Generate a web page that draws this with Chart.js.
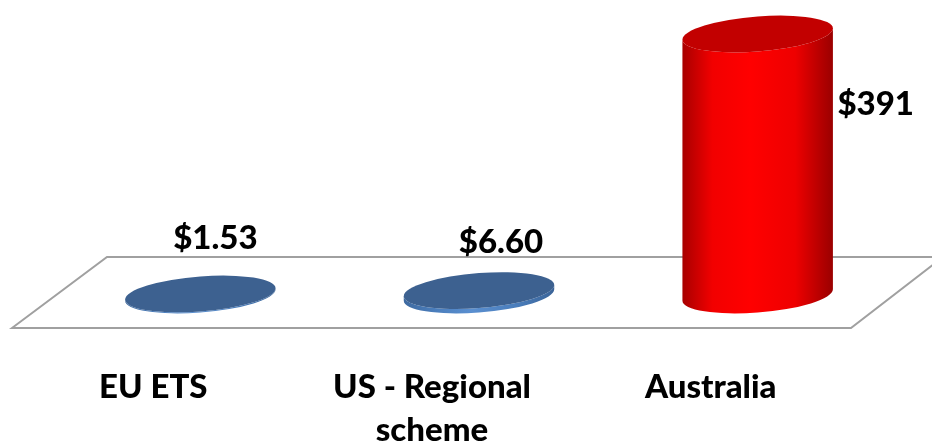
<!DOCTYPE html>
<html>
<head>
<meta charset="utf-8">
<script src="https://cdn.jsdelivr.net/npm/chart.js@4"></script>
<style>
  html, body { margin: 0; padding: 0; background: #ffffff; }
  canvas { display: block; }
</style>
</head>
<body>
<canvas id="cost-chart" width="932" height="445"></canvas>
<script>
// cost per scheme, in dollars
const schemes = ["EU ETS", ["US - Regional", "scheme"], "Australia"];
const costs = [1.53, 6.6, 391];

const FONT = "Lato, 'Open Sans', sans-serif";
const WEIGHT = "900";

// per-bar look: side gradient stops and top face colour
const barStyles = [
    { side: ["#3f6aa0", "#4a7dbb", "#5a8fd0", "#4a7dbb", "#3b6498"], top: "#3d6190" },
    { side: ["#3f6aa0", "#4a7dbb", "#5a8fd0", "#4a7dbb", "#3b6498"], top: "#3d6190" },
    { side: ["#a80000", "#f20000", "#ff0000", "#ee0000", "#9a0000"], top: "#c20000" },
];
// where each value label sits relative to the bar top centre
const labelShift = [
    [15, -56],
    [22, -48],
    [118, 70],
];

function formatCost(v) {
    return "$" + (v < 100 ? v.toFixed(2) : v.toFixed(0));
}

// sheared ellipse cylinder, sides stay vertical
function drawCylinder(ctx, cx, yTop, yBase, rx, ry, tilt, style) {
    ctx.save();
    ctx.transform(1, -tilt, 0, 1, cx, 0);

    const grad = ctx.createLinearGradient(-rx, 0, rx, 0);
    const stops = [0, 0.2, 0.45, 0.75, 1];
    style.side.forEach((c, i) => grad.addColorStop(stops[i], c));

    ctx.beginPath();
    ctx.moveTo(-rx, yTop);
    ctx.lineTo(-rx, yBase);
    ctx.ellipse(0, yBase, rx, ry, 0, Math.PI, 0, true);
    ctx.lineTo(rx, yTop);
    ctx.ellipse(0, yTop, rx, ry, 0, 0, Math.PI, false);
    ctx.closePath();
    ctx.fillStyle = grad;
    ctx.fill();

    ctx.beginPath();
    ctx.ellipse(0, yTop, rx, ry, 0, 0, Math.PI * 2);
    ctx.fillStyle = style.top;
    ctx.fill();
    ctx.restore();
}

const floorPlugin = {
    id: "floor",
    beforeDatasetsDraw(chart) {
        const { ctx, chartArea: a } = chart;
        ctx.save();
        ctx.beginPath();
        ctx.moveTo(a.left - 49, a.bottom + 33);
        ctx.lineTo(a.left + 46, a.bottom - 38);
        ctx.lineTo(a.right + 46, a.bottom - 38);
        ctx.lineTo(a.right - 46, a.bottom + 33);
        ctx.closePath();
        ctx.fillStyle = "#ffffff";
        ctx.fill();
        ctx.strokeStyle = "#a0a0a0";
        ctx.lineWidth = 2;
        ctx.stroke();
        ctx.restore();
    },
};

const cylinderPlugin = {
    id: "cylinders",
    afterDatasetsDraw(chart) {
        const ctx = chart.ctx;
        const meta = chart.getDatasetMeta(0);
        meta.data.forEach((bar, i) => {
            const rx = bar.width / 2;
            drawCylinder(ctx, bar.x, bar.y, bar.base, rx, 17.5, 0.075, barStyles[i]);
        });

        ctx.save();
        ctx.font = WEIGHT + " 33px " + FONT;
        ctx.fillStyle = "#000000";
        ctx.textAlign = "center";
        ctx.textBaseline = "middle";
        meta.data.forEach((bar, i) => {
            const [dx, dy] = labelShift[i];
            ctx.fillText(formatCost(costs[i]), bar.x + dx, bar.y + dy);
        });
        ctx.restore();
    },
};

new Chart(document.getElementById("cost-chart"), {
    type: "bar",
    data: {
        labels: schemes,
        datasets: [
            {
                data: costs,
                backgroundColor: "rgba(0,0,0,0)",
                borderWidth: 0,
                categoryPercentage: 1,
                barPercentage: 0.54,
            },
        ],
    },
    options: {
        responsive: false,
        animation: false,
        events: [],
        layout: { padding: { left: 61, right: 35, top: 28, bottom: 0 } },
        plugins: {
            legend: { display: false },
            tooltip: { enabled: false },
        },
        scales: {
            x: {
                grid: { display: false, drawTicks: false },
                border: { display: false },
                ticks: {
                    color: "#000000",
                    font: { family: FONT, size: 33, weight: WEIGHT, lineHeight: 1.33 },
                    padding: 70,
                    labelOffset: -47,
                    maxRotation: 0,
                    autoSkip: false,
                },
                afterFit(scale) {
                    scale.height = 150;
                },
            },
            y: {
                display: false,
                min: 0,
                max: 400,
            },
        },
    },
    plugins: [floorPlugin, cylinderPlugin],
});
</script>
</body>
</html>
